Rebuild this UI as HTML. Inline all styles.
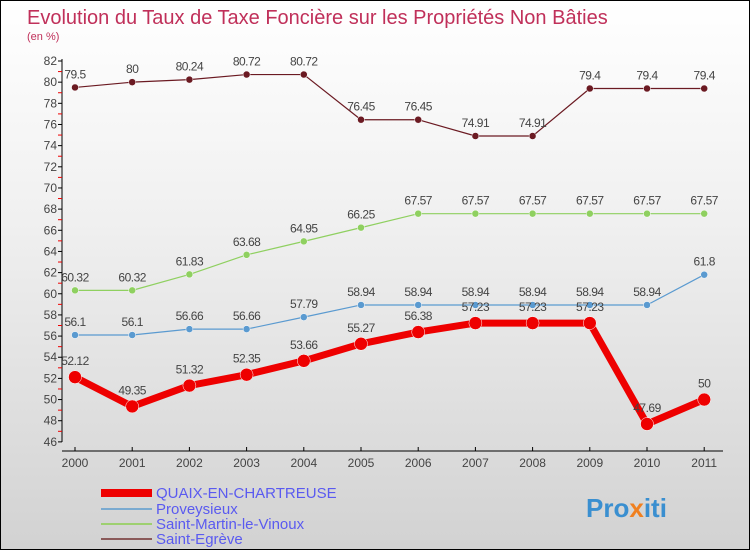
<!DOCTYPE html>
<html><head><meta charset="utf-8"><style>
body{margin:0;}
#wrap{position:relative;width:748px;height:548px;border:1px solid #000;background:linear-gradient(#ffffff 0%,#f0f0f0 40%,#d2d2d2 100%);overflow:hidden;font-family:"Liberation Sans",sans-serif;}
svg{position:absolute;left:0;top:0;}
</style></head><body>
<div id="wrap">
<svg id="c" width="748" height="548">
<text x="26" y="23" font-size="20" fill="#c0305a">Evolution du Taux de Taxe Foncière sur les Propriétés Non Bâties</text>
<text x="26" y="39" font-size="11" fill="#c0305a">(en %)</text>
<g id="axes"></g><g id="series"></g><g id="legend"></g>
<text x="585" y="516" font-size="26" font-weight="bold" fill="#3a8fd0">Pro<tspan fill="#f08020">x</tspan>iti</text>
</svg></div>
<script>
const years=[2000,2001,2002,2003,2004,2005,2006,2007,2008,2009,2010,2011];
const quaix=[52.12,49.35,51.32,52.35,53.66,55.27,56.38,57.23,57.23,57.23,47.69,50];
const prov=[56.1,56.1,56.66,56.66,57.79,58.94,58.94,58.94,58.94,58.94,58.94,61.8];
const smv=[60.32,60.32,61.83,63.68,64.95,66.25,67.57,67.57,67.57,67.57,67.57,67.57];
const egr=[79.5,80,80.24,80.72,80.72,76.45,76.45,74.91,74.91,79.4,79.4,79.4];
const yTicks=[46,48,50,52,54,56,58,60,62,64,66,68,70,72,74,76,78,80,82];
const NS="http://www.w3.org/2000/svg";
const X=i=>74+i*57.2, Y=v=>60+(82-v)*10.58;
function mk(t,a,p){const e=document.createElementNS(NS,t);for(const k in a)e.setAttribute(k,a[k]);p.appendChild(e);return e;}
const ax=document.getElementById('axes');
let l=mk('line',{x1:61,y1:58,x2:61,y2:441,stroke:'#000'},ax);

l=mk('line',{x1:61,y1:450,x2:722,y2:450,stroke:'#000'},ax);

yTicks.forEach(v=>{mk('line',{x1:57,y1:Y(v),x2:61,y2:Y(v),stroke:'#000'},ax);
 if(v<82)mk('line',{x1:57,y1:Y(v+1),x2:61,y2:Y(v+1),stroke:'#e00'},ax);
 const t=mk('text',{x:56,y:Y(v)+4,'font-size':12,'text-anchor':'end',fill:'#444'},ax);t.textContent=v;
 });
years.forEach((y,i)=>{mk('line',{x1:X(i),y1:446,x2:X(i),y2:450,stroke:'#000'},ax);
 const t=mk('text',{x:X(i),y:466,'font-size':12,'text-anchor':'middle',fill:'#444'},ax);t.textContent=y;
 });
const sg=document.getElementById('series');
function series(vals,color,w,r,name,dy){
 const g=mk('g',{},sg);
 mk('polyline',{points:vals.map((v,i)=>X(i)+','+Y(v)).join(' '),fill:'none',stroke:color,'stroke-width':w,'stroke-linejoin':'round'},g);
 vals.forEach((v,i)=>{const c=mk('circle',{cx:X(i),cy:Y(v),r:r,fill:color,stroke:'#fff','stroke-width':0.5},g);
  
  const t=mk('text',{x:X(i),y:Y(v)+dy,'font-size':12,'text-anchor':'middle',fill:'#444','letter-spacing':'-0.5'},g);t.textContent=v;
  });
}
series(egr,'#6b1a22',1.2,3.5,'saint-egreve-series',-9);
series(smv,'#8fd060',1.2,3.5,'saint-martin-series',-9);
series(prov,'#5a9ad0',1.2,3.5,'proveysieux-series',-9);
series(quaix,'#ee0000',7,6.5,'quaix-series',-12);
const lg=document.getElementById('legend');
const leg=[['QUAIX-EN-CHARTREUSE','#ee0000',8,492],['Proveysieux','#7aaad0',2,508],['Saint-Martin-le-Vinoux','#9ed070',2,523],['Saint-Egrève','#8a5a5a',2,538]];
leg.forEach(([n,c,w,y])=>{const g=mk('g',{},lg);
 mk('line',{x1:100,y1:y,x2:151,y2:y,stroke:c,'stroke-width':w},g);
 const t=mk('text',{x:155,y:y+5,'font-size':15,fill:'#5a5af0'},g);t.textContent=n;});
</script>
</body></html>
